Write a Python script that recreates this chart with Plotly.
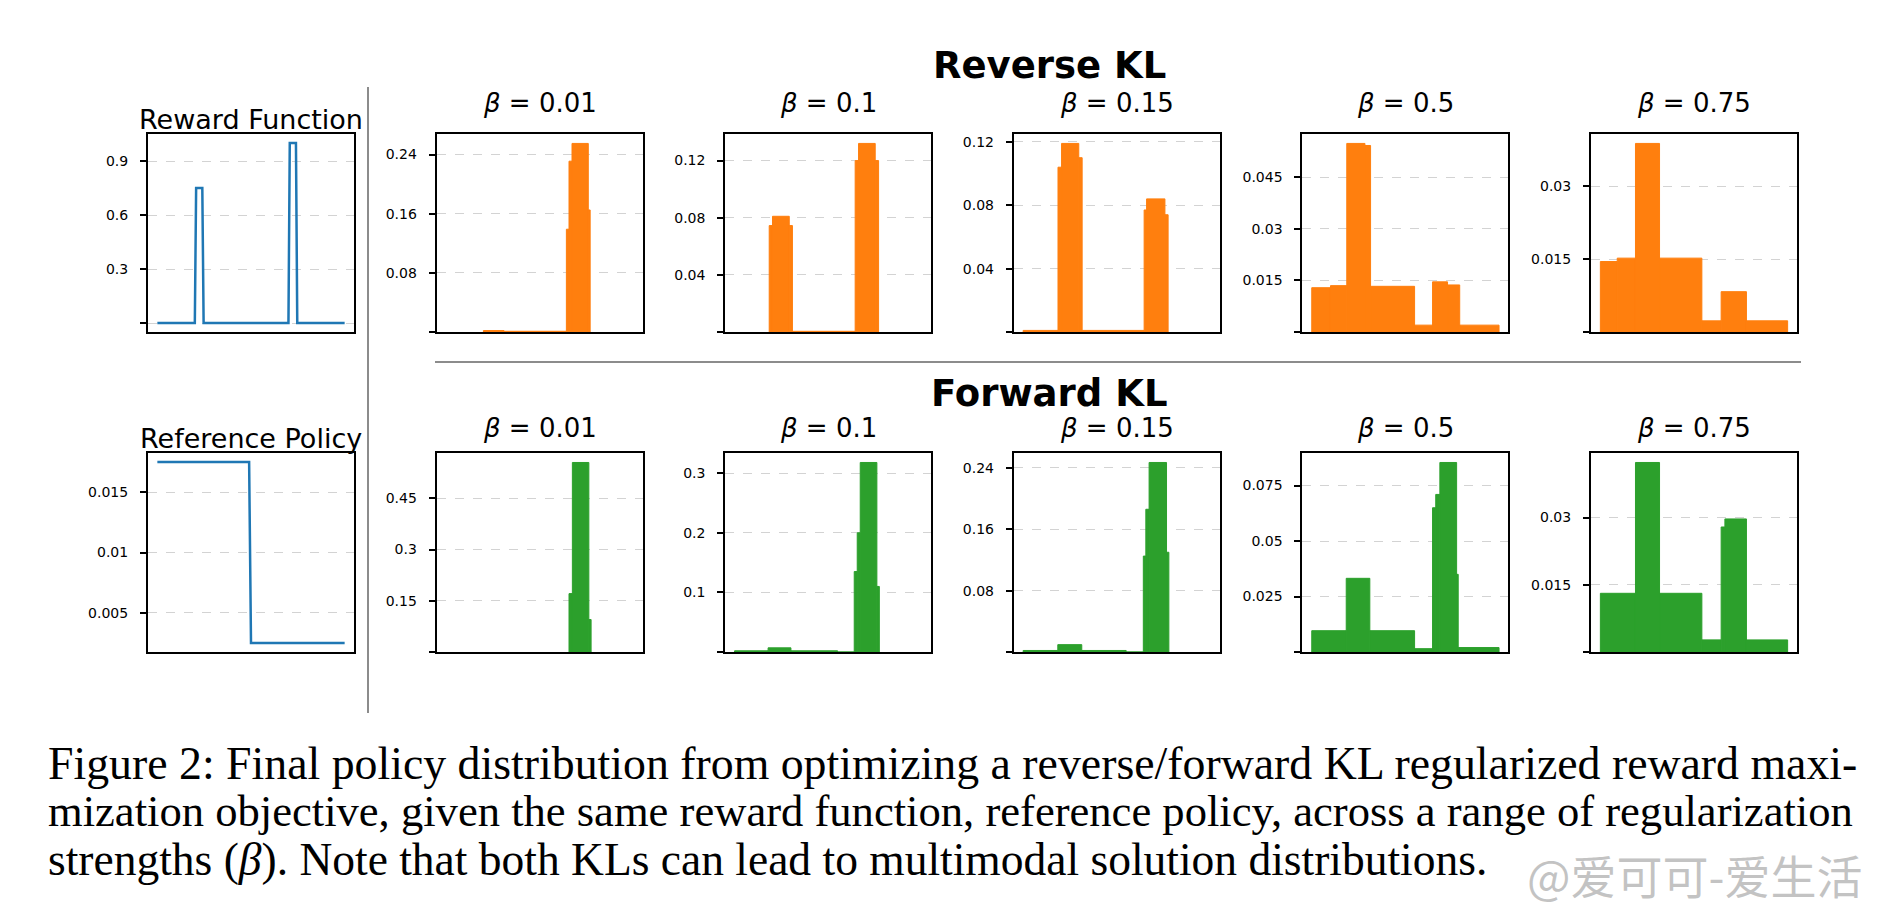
import plotly.graph_objects as go

# ---------------- data ----------------
reward_x = [0.0, 0.2, 0.207, 0.24, 0.247, 0.7, 0.707, 0.74, 0.747, 1.0]
reward_y = [0.0, 0.0, 0.75, 0.75, 0.0, 0.0, 1.0, 1.0, 0.0, 0.0]
reward_ticks = [0, 0.3, 0.6, 0.9]
reward_labels = ["", "0.3", "0.6", "0.9"]

ref_x = [0.0, 0.49, 0.5, 1.0]
ref_y = [0.0175, 0.0175, 0.0025, 0.0025]
ref_ticks = [0.005, 0.01, 0.015]
ref_labels = ["0.005", "0.01", "0.015"]

betas = ["0.01", "0.1", "0.15", "0.5", "0.75"]

# reverse KL panels: segment edges and heights
rev_001_edges = [0.20, 0.31, 0.643, 0.657, 0.673, 0.760, 0.770]
rev_001_h = [0.002, 0.001, 0.139, 0.231, 0.255, 0.165]
rev_01_edges = [0.185, 0.2025, 0.292, 0.309, 0.644, 0.662, 0.751, 0.769]
rev_01_h = [0.0745, 0.081, 0.0745, 0.0005, 0.12, 0.132, 0.12]
rev_015_edges = [0.0, 0.186, 0.205, 0.297, 0.315, 0.646, 0.659, 0.757, 0.774]
rev_015_h = [0.001, 0.104, 0.119, 0.11, 0.001, 0.077, 0.084, 0.074]
rev_05_edges = [0.0, 0.10, 0.187, 0.284, 0.314, 0.549, 0.645, 0.725, 0.79, 1.0]
rev_05_h = [0.0129, 0.0135, 0.0549, 0.0543, 0.0133, 0.002, 0.0146, 0.0137, 0.002]
rev_075_edges = [0.0, 0.09, 0.1875, 0.316, 0.542, 0.645, 0.78, 1.0]
rev_075_h = [0.0145, 0.0152, 0.0388, 0.0152, 0.0023, 0.0083, 0.0023]

# forward KL panels
fwd_001_edges = [0.657, 0.675, 0.763, 0.775]
fwd_001_h = [0.171, 0.555, 0.095]
fwd_01_edges = [0.0, 0.179, 0.301, 0.55, 0.639, 0.655, 0.671, 0.760, 0.773]
fwd_01_h = [0.002, 0.007, 0.002, 0.0, 0.135, 0.2, 0.318, 0.11]
fwd_015_edges = [0.0, 0.185, 0.313, 0.55, 0.6416, 0.655, 0.6725, 0.7655, 0.778]
fwd_015_h = [0.002, 0.0096, 0.002, 0.0, 0.125, 0.186, 0.247, 0.13]
fwd_05_edges = [0.0, 0.184, 0.31, 0.549, 0.645, 0.662, 0.684, 0.7735, 0.782, 1.0]
fwd_05_h = [0.0096, 0.0332, 0.0096, 0.0015, 0.065, 0.071, 0.0854, 0.035, 0.002]
fwd_075_edges = [0.0, 0.1875, 0.316, 0.542, 0.645, 0.665, 0.78, 1.0]
fwd_075_h = [0.0131, 0.0423, 0.0131, 0.0027, 0.0279, 0.0297, 0.0027]

rev_ticks = [[0, 0.08, 0.16, 0.24], [0, 0.04, 0.08, 0.12], [0, 0.04, 0.08, 0.12],
             [0, 0.015, 0.03, 0.045], [0, 0.015, 0.03]]
rev_labels = [["", "0.08", "0.16", "0.24"], ["", "0.04", "0.08", "0.12"], ["", "0.04", "0.08", "0.12"],
              ["", "0.015", "0.03", "0.045"], ["", "0.015", "0.03"]]
fwd_ticks = [[0, 0.15, 0.3, 0.45], [0, 0.1, 0.2, 0.3], [0, 0.08, 0.16, 0.24],
             [0, 0.025, 0.05, 0.075], [0, 0.015, 0.03]]
fwd_labels = [["", "0.15", "0.3", "0.45"], ["", "0.1", "0.2", "0.3"], ["", "0.08", "0.16", "0.24"],
              ["", "0.025", "0.05", "0.075"], ["", "0.015", "0.03"]]

rev_panels = [(rev_001_edges, rev_001_h), (rev_01_edges, rev_01_h), (rev_015_edges, rev_015_h),
              (rev_05_edges, rev_05_h), (rev_075_edges, rev_075_h)]
fwd_panels = [(fwd_001_edges, fwd_001_h), (fwd_01_edges, fwd_01_h), (fwd_015_edges, fwd_015_h),
              (fwd_05_edges, fwd_05_h), (fwd_075_edges, fwd_075_h)]

caption_lines = [
    "Figure 2: Final policy distribution from optimizing a reverse/forward KL regularized reward maxi-",
    "mization objective, given the same reward function, reference policy, across a range of regularization",
    "strengths (<i>β</i>). Note that both KLs can lead to multimodal solution distributions.",
]

# ---------------- layout helpers ----------------
W, H = 1892, 918
ORANGE = "#ff7f0e"
GREEN = "#2ca02c"
BLUE = "#1f77b4"

def fx(p):
    return p / W

def fy(p):
    return 1 - p / H

col_left = [148, 436.6, 725.2, 1013.8, 1302.4, 1591]
panel_w = 206
rows = [(134, 332), (453, 652)]

fig = go.Figure()
layout = {}
annotations = []

def add_axes(idx, col, row, yrange, tickvals, ticktext):
    xname = "xaxis" if idx == 1 else f"xaxis{idx}"
    yname = "yaxis" if idx == 1 else f"yaxis{idx}"
    top, bot = rows[row]
    l = col_left[col]
    layout[xname] = dict(domain=[fx(l), fx(l + panel_w)], range=[-0.05, 1.05],
                         showgrid=False, showticklabels=False, ticks="", zeroline=False,
                         showline=True, mirror=True, linecolor="black", linewidth=2,
                         anchor=f"y{idx}" if idx > 1 else "y", fixedrange=True)
    layout[yname] = dict(domain=[fy(bot), fy(top)], range=yrange,
                         tickmode="array", tickvals=tickvals, ticktext=ticktext,
                         ticks="outside", ticklen=6, tickwidth=1.5, tickcolor="black",
                         ticklabelstandoff=9,
                         tickfont=dict(family="DejaVu Sans", size=14, color="black"),
                         showgrid=True, gridcolor="#d3d3d3", gridwidth=1, griddash="dash",
                         zeroline=False, showline=True, mirror=True, linecolor="black", linewidth=2,
                         anchor=f"x{idx}" if idx > 1 else "x", fixedrange=True)

def axref(idx):
    return ("x", "y") if idx == 1 else (f"x{idx}", f"y{idx}")

idx = 1
# Reward function
xr, yr = axref(idx)
fig.add_trace(go.Scatter(x=reward_x, y=reward_y, mode="lines", line=dict(color=BLUE, width=2.5),
                         xaxis=xr, yaxis=yr))
add_axes(idx, 0, 0, [-0.05, 1.05], reward_ticks, reward_labels)
idx += 1

def bar_trace(edges, h, color, idx):
    xr, yr = axref(idx)
    centers = [(edges[i] + edges[i + 1]) / 2 for i in range(len(h))]
    widths = [edges[i + 1] - edges[i] for i in range(len(h))]
    return go.Bar(x=centers, y=h, width=widths,
                  marker=dict(color=color, line=dict(width=1, color=color)),
                  xaxis=xr, yaxis=yr)

for c, (edges, h) in enumerate(rev_panels):
    fig.add_trace(bar_trace(edges, h, ORANGE, idx))
    add_axes(idx, c + 1, 0, [0, max(h) * 1.05], rev_ticks[c], rev_labels[c])
    idx += 1

# Reference policy
xr, yr = axref(idx)
fig.add_trace(go.Scatter(x=ref_x, y=ref_y, mode="lines", line=dict(color=BLUE, width=2.5),
                         xaxis=xr, yaxis=yr))
rmin, rmax = min(ref_y), max(ref_y)
add_axes(idx, 0, 1, [rmin - 0.05 * (rmax - rmin), rmax + 0.05 * (rmax - rmin)], ref_ticks, ref_labels)
idx += 1

for c, (edges, h) in enumerate(fwd_panels):
    fig.add_trace(bar_trace(edges, h, GREEN, idx))
    add_axes(idx, c + 1, 1, [0, max(h) * 1.05], fwd_ticks[c], fwd_labels[c])
    idx += 1

# ---------------- text ----------------
def txt(x, y, s, size, family="DejaVu Sans", xanchor="center", color="black", pad=1):
    annotations.append(dict(x=fx(x), y=fy(y), xref="paper", yref="paper", text=s, showarrow=False,
                            xanchor=xanchor, yanchor="middle", borderpad=pad,
                            font=dict(family=family, size=size, color=color)))

txt(1049, 66, "<b>Reverse KL</b>", 37)
txt(1049, 393, "<b>Forward KL</b>", 37)
txt(col_left[0] + panel_w / 2, 119, "Reward Function", 27)
txt(col_left[0] + panel_w / 2, 439, "Reference Policy", 27)
for c, b in enumerate(betas):
    cx = col_left[c + 1] + panel_w / 2
    txt(cx, 103, f"<i>β</i> = {b}", 26)
    txt(cx, 428, f"<i>β</i> = {b}", 26)

cap_y = [763, 811, 859]
cap_size = [45.8, 44.6, 45.5]
for line, y, s in zip(caption_lines, cap_y, cap_size):
    txt(47, y, line, s, family="Liberation Serif", xanchor="left", pad=0)

txt(1526, 874, "@爱可可-爱生活", 46, family="Noto Sans CJK SC", xanchor="left",
    color="rgba(185,185,185,0.85)", pad=0)

shapes = [
    dict(type="line", xref="paper", yref="paper", x0=fx(368), x1=fx(368), y0=fy(87), y1=fy(713),
         line=dict(color="#8c8c8c", width=2)),
    dict(type="line", xref="paper", yref="paper", x0=fx(435), x1=fx(1801), y0=fy(362), y1=fy(362),
         line=dict(color="#8c8c8c", width=2)),
]

fig.update_layout(width=W, height=H, margin=dict(l=0, r=0, t=0, b=0),
                  paper_bgcolor="white", plot_bgcolor="white", showlegend=False,
                  font=dict(family="DejaVu Sans", color="black"),
                  annotations=annotations, shapes=shapes, **layout)

fig.write_html("out.html", config={"displayModeBar": False},
               post_script="document.body.style.margin='0';")
